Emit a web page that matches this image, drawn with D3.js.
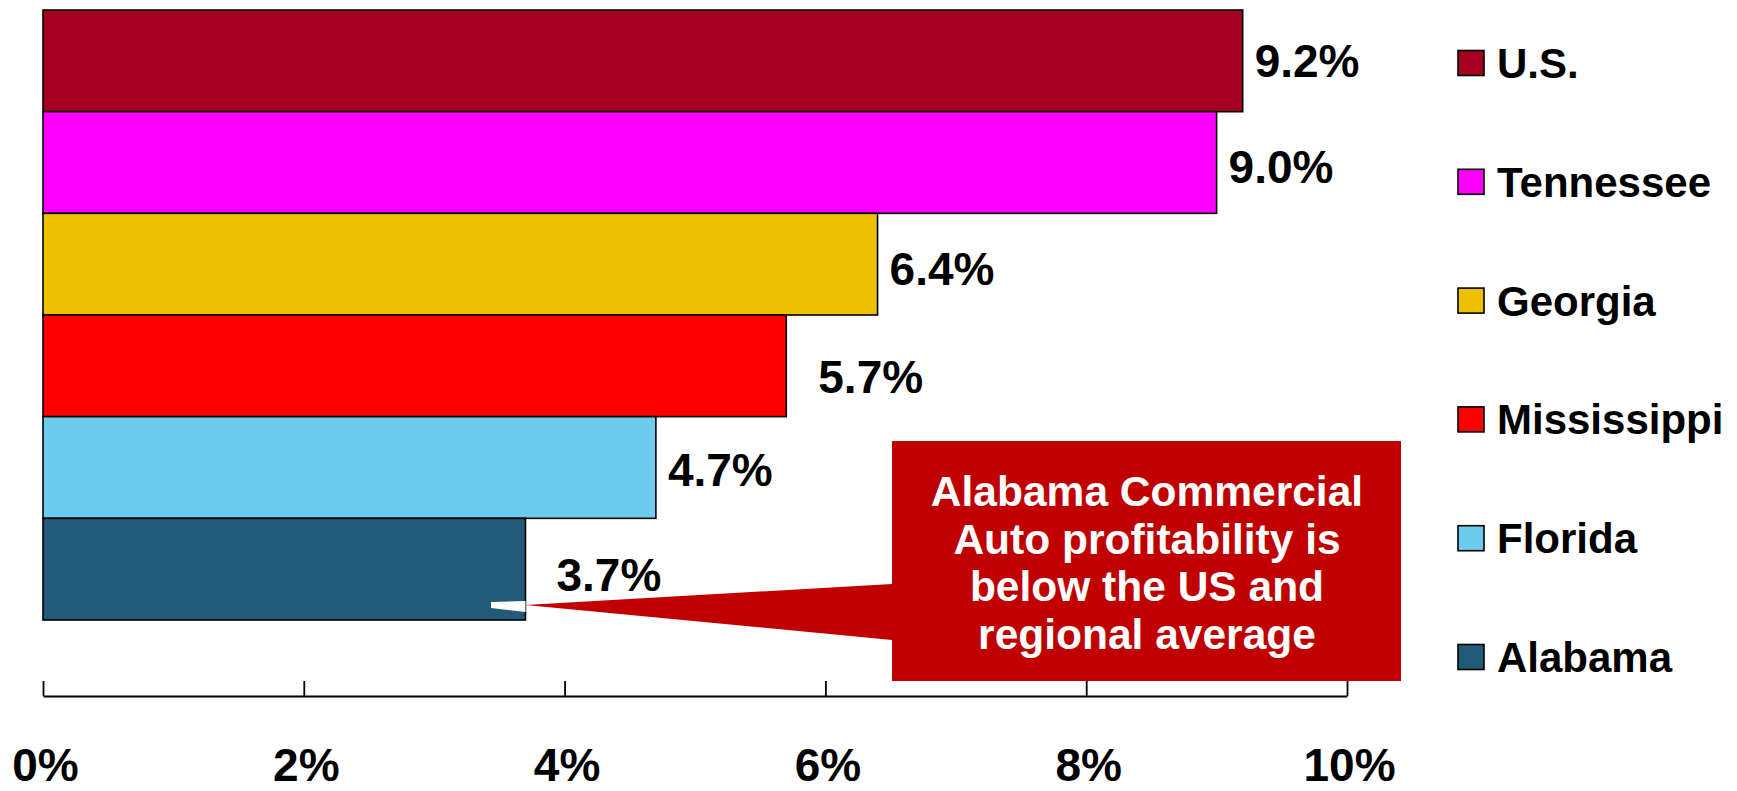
<!DOCTYPE html>
<html>
<head>
<meta charset="utf-8">
<script src="https://cdn.jsdelivr.net/npm/d3@7"></script>
<style>
  html, body { margin: 0; padding: 0; background: #fff; }
  svg { display: block; }
  text { font-family: "Liberation Sans", Arial, sans-serif; font-weight: bold; }
</style>
</head>
<body>
<svg id="chart" width="1737" height="791"></svg>
<script>
// ---- data ----
const categories = ["U.S.", "Tennessee", "Georgia", "Mississippi", "Florida", "Alabama"];
const values = [0.092, 0.090, 0.064, 0.057, 0.047, 0.037];
const valueLabels = ["9.2%", "9.0%", "6.4%", "5.7%", "4.7%", "3.7%"];
const colors = ["#A50021", "#FF00FF", "#EDC100", "#FF0000", "#6DCBEE", "#225B79"];
const xTicks = [0, 0.02, 0.04, 0.06, 0.08, 0.10];
const xTickLabels = ["0%", "2%", "4%", "6%", "8%", "10%"];
const calloutLines = ["Alabama Commercial", "Auto profitability is", "below the US and", "regional average"];

// small label nudges (as in the original slide)
const labelDx = [0, 0, 0, 20, 0, 19];
const labelDy = [0, 4, 4, 11, 2, 5];

const svg = d3.select("#chart");

const x = d3.scaleLinear().domain([0, 0.10]).range([43, 1347]);
const y = d3.scaleBand().domain(categories).range([10, 620]).paddingInner(0).paddingOuter(0);

// bars
svg.append("g").selectAll("rect")
  .data(categories)
  .join("rect")
  .attr("x", x(0))
  .attr("y", d => y(d))
  .attr("width", (d, i) => x(values[i]) - x(0))
  .attr("height", y.bandwidth())
  .attr("fill", (d, i) => colors[i])
  .attr("stroke", "#000")
  .attr("stroke-width", 1.6);

// value labels
svg.append("g").selectAll("text")
  .data(categories)
  .join("text")
  .attr("x", (d, i) => x(values[i]) + 12 + labelDx[i])
  .attr("y", (d, i) => y(d) + y.bandwidth() / 2 + labelDy[i])
  .attr("dy", "0.36em")
  .attr("font-size", 46)
  .attr("fill", "#000")
  .text((d, i) => valueLabels[i]);

// x axis
const axis = d3.axisBottom(x)
  .tickValues(xTicks)
  .tickFormat((d, i) => xTickLabels[i])
  .tickSizeInner(-15)
  .tickSizeOuter(0)
  .tickPadding(52);

const gx = svg.append("g").attr("transform", "translate(0,696)").call(axis);
gx.select(".domain").attr("stroke", "#000").attr("stroke-width", 2.2);
gx.selectAll(".tick line").attr("stroke", "#000").attr("stroke-width", 1.8);
gx.selectAll(".tick text")
  .attr("font-size", 46)
  .attr("dx", 2)
  .attr("font-family", "'Liberation Sans', Arial, sans-serif")
  .attr("font-weight", "bold")
  .attr("fill", "#000");

// legend
const ly = d3.scalePoint().domain(categories).range([63, 657]);
const legend = svg.append("g").selectAll("g")
  .data(categories)
  .join("g")
  .attr("transform", d => `translate(1458,${ly(d)})`);
legend.append("rect")
  .attr("x", 0).attr("y", -12.5)
  .attr("width", 26).attr("height", 25)
  .attr("fill", (d, i) => colors[i])
  .attr("stroke", "#000").attr("stroke-width", 1.6);
legend.append("text")
  .attr("x", 39).attr("y", 15)
  .attr("font-size", 42)
  .attr("fill", "#000")
  .text(d => d);

// callout
const callout = svg.append("g");
const alabamaEnd = x(values[5]);
callout.append("polygon")
  .attr("points", [[alabamaEnd, 605], [892, 584], [892, 640]].map(p => p.join(",")).join(" "))
  .attr("fill", "#C00000");
callout.append("polygon")
  .attr("points", [[491, 602], [alabamaEnd, 601], [alabamaEnd, 612], [491, 608]].map(p => p.join(",")).join(" "))
  .attr("fill", "#fff");
callout.append("rect")
  .attr("x", 892).attr("y", 441)
  .attr("width", 509).attr("height", 240)
  .attr("fill", "#C00000");
callout.append("g").selectAll("text")
  .data(calloutLines)
  .join("text")
  .attr("x", 1147)
  .attr("y", (d, i) => 506 + i * 47.5)
  .attr("text-anchor", "middle")
  .attr("font-size", 42.5)
  .attr("fill", "#fff")
  .text(d => d);
</script>
</body>
</html>
